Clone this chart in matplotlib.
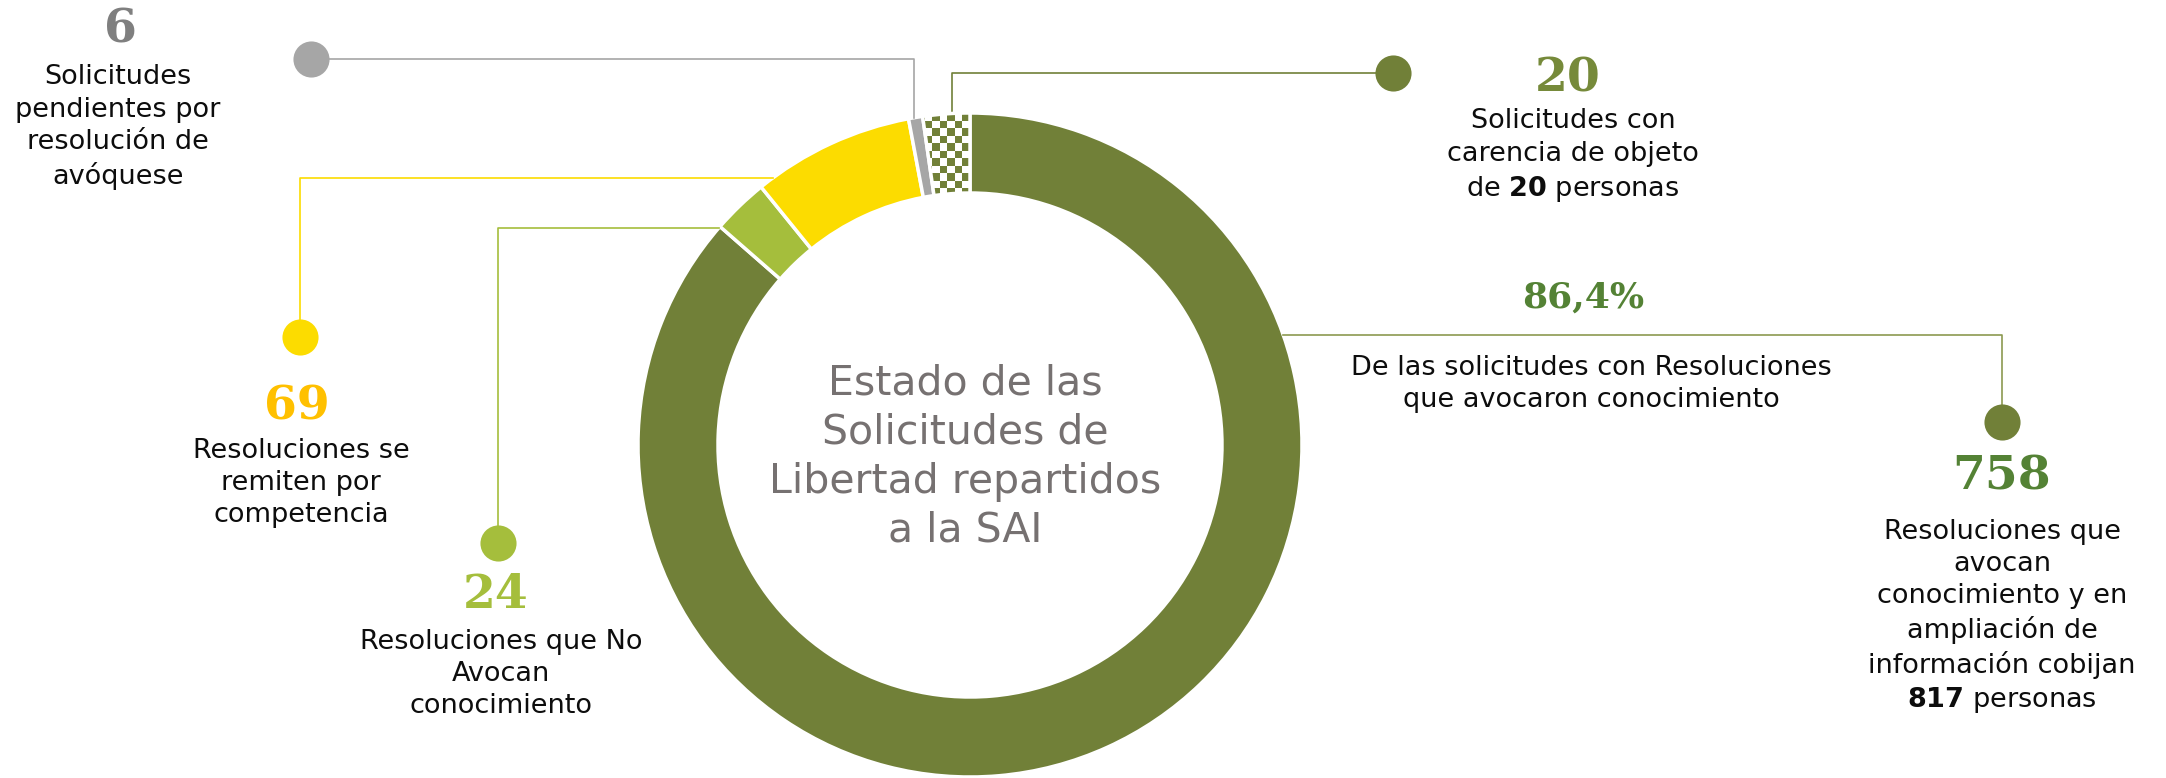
import numpy as np
import matplotlib.pyplot as plt
from matplotlib.colors import ListedColormap

plt.rcParams['font.family'] = ['DejaVu Sans']
plt.rcParams['mathtext.fontset'] = 'custom'
plt.rcParams['mathtext.rm'] = 'DejaVu Sans'
plt.rcParams['mathtext.bf'] = 'DejaVu Sans:bold'

# ---- datos ----
valores = [758, 24, 69, 6, 20]
numeros = ['758', '24', '69', '6', '20']
colores = ['#718038', '#A5BE3C', '#FCDC00', '#A6A6A6', '#718038']
col_num = ['#548235', '#A5BE3C', '#FFC000', '#7F7F7F', '#768A3A']
textos = [
    'Resoluciones que\navocan\nconocimiento y en\nampliación de\ninformación cobijan\n$\\mathbf{817}$ personas',
    'Resoluciones que No\nAvocan\nconocimiento',
    'Resoluciones se\nremiten por\ncompetencia',
    'Solicitudes\npendientes por\nresolución de\navóquese',
    'Solicitudes con\ncarencia de objeto\nde $\\mathbf{20}$ personas',
]
titulo = 'Estado de las\nSolicitudes de\nLibertad repartidos\na la SAI'
texto_pct = 'De las solicitudes con Resoluciones\nque avocaron conocimiento'

W, H = 2166, 778
CX, CY, R, ANCHO = 970, H - 445, 332, 80
SERIF = 'DejaVu Serif'

# posiciones de etiquetas (px, y hacia abajo): punto, y de la linea, numero, texto
LAYOUT = [
    dict(dot=(2002, 422), ly=335, num=(2002, 476), txt=(2002, 617)),
    dict(dot=(498, 543), ly=228, num=(496, 595), txt=(501, 674)),
    dict(dot=(300, 337), ly=178, num=(297, 406), txt=(301, 483)),
    dict(dot=(311, 59), lx=914, num=(120, 29), txt=(118, 127)),
    dict(dot=(1393, 73), lx=952, num=(1568, 78), txt=(1573, 156)),
]


def Y(y):
    return H - y


fig = plt.figure(figsize=(W / 100, H / 100), dpi=100)
ax = fig.add_axes([0, 0, 1, 1])

wedges, _ = ax.pie(valores, colors=colores, startangle=90, counterclock=False,
                   radius=R, center=(CX, CY),
                   wedgeprops=dict(width=ANCHO, edgecolor='white', linewidth=2.5))

# segmento a cuadros
w_chk = wedges[4]
w_chk.set_facecolor('none')
w_chk.set_zorder(3)
n = int(2 * R / 7.5)
board = np.indices((n, n)).sum(axis=0) % 2
im = ax.imshow(board, cmap=ListedColormap(['white', '#718038']),
               extent=[CX - R, CX + R, CY - R, CY + R],
               interpolation='nearest', zorder=2)
im.set_clip_path(w_chk)

# conectores
for i, lay in enumerate(LAYOUT):
    c = colores[i]
    lc = '#8C9A50' if i == 0 else c
    dx, dy = lay['dot']
    if 'ly' in lay:
        ly = lay['ly']
        rx = np.sqrt(R ** 2 - (Y(ly) - CY) ** 2)
        ex = CX + rx if dx > CX else CX - rx
        ax.plot([ex, dx, dx], [Y(ly), Y(ly), Y(dy)], color=lc, lw=1.2, zorder=1)
    else:
        lx = lay['lx']
        ey = CY + np.sqrt(R ** 2 - (lx - CX) ** 2)
        ax.plot([dx, lx, lx], [Y(dy), Y(dy), ey], color=lc, lw=1.2, zorder=1)
    ax.plot(dx, Y(dy), 'o', ms=26, color=c, mec='none', zorder=4)
    ax.text(lay['num'][0], Y(lay['num'][1]), numeros[i], family=SERIF,
            fontweight='bold', fontsize=34, color=col_num[i],
            ha='center', va='center')
    ax.text(lay['txt'][0], Y(lay['txt'][1]), textos[i], fontsize=19.5,
            color='#0D0D0D', ha='center', va='center', linespacing=1.31)

pct = valores[0] / sum(valores) * 100
ax.text(1583, Y(298), f'{pct:.1f}%'.replace('.', ','), family=SERIF,
        fontweight='bold', fontsize=26, color='#548235', ha='center', va='center')
ax.text(1591, Y(384), texto_pct, fontsize=19.5, color='#0D0D0D',
        ha='center', va='center', linespacing=1.31)

ax.text(CX - 5, Y(457), titulo, fontsize=29.5, color='#767171',
        ha='center', va='center', linespacing=1.3)

ax.set_xlim(0, W)
ax.set_ylim(0, H)
ax.set_aspect('equal')
ax.axis('off')

fig.savefig('out.png', dpi=100)
